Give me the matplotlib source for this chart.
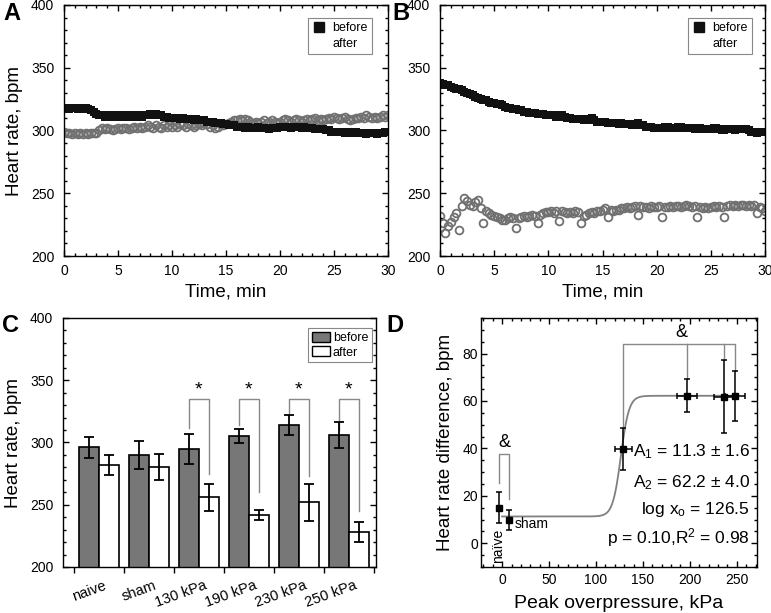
import numpy as np
import matplotlib
matplotlib.use('Agg')
import matplotlib.pyplot as plt
from matplotlib.ticker import MultipleLocator
from matplotlib.lines import Line2D
from matplotlib.patches import Patch
import matplotlib.transforms as mtransforms

plt.rcParams['font.family'] = ['Liberation Sans', 'DejaVu Sans']
plt.rcParams['mathtext.fontset'] = 'custom'
plt.rcParams['mathtext.rm'] = 'Liberation Sans'
plt.rcParams['mathtext.it'] = 'Liberation Sans:italic'
plt.rcParams['mathtext.bf'] = 'Liberation Sans:bold'

# ---------------- data ----------------
time_min = np.linspace(0, 30, 121)

a_before = [318, 318, 317, 318, 318, 317, 318, 317, 318, 317, 316,
            315, 313, 312,
            312, 311, 312, 311, 312, 311, 311, 312, 311, 312, 311, 312,
            311, 311, 312, 311, 312, 312, 313, 312, 313, 312, 312, 311,
            311, 310, 310, 310, 310, 309, 310, 309, 309, 309, 308, 309,
            308, 308, 308, 307, 307, 307, 306,
            306, 306, 305, 305, 304, 304, 304, 303,
            303, 303, 302, 303, 302, 302, 302, 303, 302, 302, 302, 301,
            302, 302, 302, 303,
            303, 303, 303, 302, 303, 303, 303, 302, 303, 302, 302, 302,
            301, 301, 301, 301,
            300, 300, 299, 299,
            299, 299, 299, 298, 299, 299, 298, 299, 298, 298, 298, 297,
            298, 298, 298, 297, 298, 298, 299, 299]

a_after = [299, 298, 298, 297, 298, 297, 298, 297, 298, 297, 298, 298, 298,
           300, 302, 301, 302, 301, 300, 301, 302, 301, 302, 302, 301,
           302, 303, 302, 303, 302, 303, 304, 303, 302, 304, 303, 302,
           304, 303, 304, 303,
           304, 303, 305, 304, 303, 305, 304, 303, 304, 305, 304, 306,
           305, 303, 304, 302, 303, 305, 304, 305,
           306, 307, 308, 308, 309, 308, 309, 308,
           307, 306, 307, 306, 307, 308, 306, 307, 308, 307, 306, 307,
           308, 309, 308, 307, 308, 309, 308, 307, 308, 309, 308, 309,
           310, 308, 309, 308,
           309, 310, 309, 311, 310, 309, 310, 311, 309, 308, 309, 310,
           310, 311, 310, 312, 311, 310, 311, 310, 311, 312, 311, 312]

b_before = [338, 337, 336, 336, 335, 334, 333, 333, 332, 331, 330, 329,
            328, 327, 326, 325, 324, 324, 323, 322, 322, 321, 321, 320,
            319, 318, 318, 317, 317, 316, 316, 315, 315, 314, 314, 314,
            313, 313, 313, 312, 312, 312, 312, 311, 311, 312, 311, 310,
            310, 309, 309, 309, 309, 308, 308, 309, 310, 308, 307, 307,
            307, 307, 306, 306, 306, 306, 305, 306, 305, 305, 305, 304,
            305, 306, 304, 304, 303, 303, 303, 302, 302, 302, 302, 303,
            303, 302, 302, 302, 303, 303, 302, 302, 302, 302, 301, 301,
            302, 301, 301, 301, 301, 302, 302, 301, 300, 300, 301, 301,
            301, 300, 301, 301, 301, 301, 300, 299, 299, 298, 299, 299,
            299]

b_after = [232, 226, 218, 224, 227, 231, 234, 221, 240, 246, 244, 241,
           240, 243, 245, 238, 226, 236, 234, 233, 232, 231, 230, 229,
           229, 230, 231, 230, 222, 230, 231, 232, 231, 232, 233, 232,
           226, 233, 234, 235, 235, 236, 234, 236, 228, 236, 235, 234,
           235, 234, 236, 235, 226, 232, 233, 234, 235, 234, 236, 236,
           237, 238, 231, 237, 236, 237, 237, 238, 238, 239, 238, 239,
           240, 233, 240, 239, 239, 238, 240, 239, 239, 240, 231, 239,
           239, 240, 239, 240, 240, 239, 240, 241, 240, 239, 240, 231,
           239, 238, 239, 238, 239, 240, 239, 240, 239, 231, 240, 241,
           240, 241, 240, 241, 241, 240, 241, 240, 241, 234, 239, 238,
           236]

categories = ['naive', 'sham', '130 kPa', '190 kPa', '230 kPa', '250 kPa']
hr_before = [296, 290, 295, 305, 314, 306]
hr_before_err = [8.8, 11, 12, 5.6, 8.3, 10.6]
hr_after = [282, 280, 256, 242, 252, 228]
hr_after_err = [8, 10.5, 10.7, 4, 15, 8]
sig_groups = [2, 3, 4, 5]
sig_left_y = [311.6, 314, 323.7, 309.8]
sig_right_y = [274.7, 260, 272.8, 245]
sig_top_y = 335

pressure = [-3, 7, 129, 197, 236, 248]
pressure_err = [0, 0, 9, 11, 10, 11]
hr_diff = [15, 10, 39.7, 62.3, 61.8, 62]
hr_diff_err = [6.6, 4.2, 9, 7, 15.5, 10.5]
fit_A1, fit_A2, fit_x0, fit_p = 11.3, 62.2, 126.5, 0.10

GRAY = '#707070'
fig = plt.figure(figsize=(7.71, 6.13), dpi=100)
W, H = 771, 613


def axes_px(l, r, t, b):
    return fig.add_axes([l / W, (H - b) / H, (r - l) / W, (b - t) / H])


def style(ax, xmaj, xmin, ymaj, ymin, top=True, right=True):
    ax.xaxis.set_major_locator(MultipleLocator(xmaj))
    ax.xaxis.set_minor_locator(MultipleLocator(xmin))
    ax.yaxis.set_major_locator(MultipleLocator(ymaj))
    ax.yaxis.set_minor_locator(MultipleLocator(ymin))
    ax.tick_params(which='both', direction='in', top=top, right=right,
                   labelsize=10, width=1.0)
    ax.tick_params(which='major', length=4.5)
    ax.tick_params(which='minor', length=2.5)
    ax.tick_params(axis='y', pad=7)
    ax.tick_params(axis='x', pad=6)
    for s in ax.spines.values():
        s.set_linewidth(1.0)


def ts_panel(ax, before, after, legend_x):
    ax.plot(time_min, after, linestyle='none', marker='o', ms=5.6, mfc='none',
            mec=GRAY, mew=1.3)
    ax.plot(time_min, before, linestyle='none', marker='s', ms=6.3,
            color='#111111', mew=0)
    ax.set_xlim(0, 30)
    ax.set_ylim(200, 400)
    style(ax, 5, 1, 50, 10)
    ax.set_xlabel('Time, min', fontsize=13.5, labelpad=4)
    h = [Line2D([], [], linestyle='none', marker='s', ms=7, color='#111111'),
         Line2D([], [], linestyle='none')]
    leg = ax.legend(h, ['before', 'after'], loc='upper right',
                    bbox_to_anchor=(legend_x, 0.948), borderaxespad=0,
                    fontsize=9, handlelength=1.0, handletextpad=0.6,
                    borderpad=0.35, labelspacing=0.25, fancybox=False,
                    framealpha=1)
    leg.get_frame().set_edgecolor('#888888')
    leg.get_frame().set_linewidth(0.8)


# ---------------- A ----------------
axA = axes_px(64, 388, 5, 256)
ts_panel(axA, a_before, a_after, 0.951)
axA.set_ylabel('Heart rate, bpm', fontsize=13.5, labelpad=6)
fig.text(3 / W, 1 - 14 / H, 'A', fontsize=17, fontweight='bold', va='center')

# ---------------- B ----------------
axB = axes_px(440, 765, 5, 256)
ts_panel(axB, b_before, b_after, 0.96)
fig.text(392 / W, 1 - 14 / H, 'B', fontsize=17, fontweight='bold', va='center')

# ---------------- C ----------------
axC = axes_px(63, 376, 318, 567)
x = np.arange(len(categories))
bw = 0.4
axC.bar(x - bw / 2, hr_before, bw, color='#777777', edgecolor='black',
        linewidth=1.2, zorder=2)
axC.bar(x + bw / 2, hr_after, bw, color='white', edgecolor='black',
        linewidth=1.2, zorder=2)
axC.errorbar(x - bw / 2, hr_before, yerr=hr_before_err, fmt='none',
             ecolor='black', elinewidth=1.3, capsize=3.5, capthick=1.3, zorder=3)
axC.errorbar(x + bw / 2, hr_after, yerr=hr_after_err, fmt='none',
             ecolor='black', elinewidth=1.3, capsize=3.5, capthick=1.3, zorder=3)
for g, yl, yr in zip(sig_groups, sig_left_y, sig_right_y):
    axC.plot([g - bw / 2, g - bw / 2, g + bw / 2, g + bw / 2],
             [yl, sig_top_y, sig_top_y, yr], color='#888888', lw=1.0, zorder=1)
    axC.text(g, sig_top_y + 0.5, '*', ha='center', va='bottom', fontsize=14)
axC.set_xlim(-0.71, 5.54)
axC.set_ylim(200, 400)
axC.yaxis.set_major_locator(MultipleLocator(50))
axC.yaxis.set_minor_locator(MultipleLocator(10))
axC.set_xticks(np.arange(-0.5, 6.0, 1.0))
axC.set_xticklabels([])
axC.tick_params(axis='x', which='both', direction='out', length=4, width=1.0,
                top=False)
axC.tick_params(axis='y', which='both', direction='in', right=True,
                labelsize=10, pad=7, width=1.0)
axC.tick_params(axis='y', which='major', length=4.5)
axC.tick_params(axis='y', which='minor', length=2.5)
for s in axC.spines.values():
    s.set_linewidth(1.0)
trans = mtransforms.blended_transform_factory(axC.transData, axC.transAxes)
for i, c in enumerate(categories):
    axC.text(i + 0.1, -0.045, c, transform=trans, rotation=20,
             rotation_mode='anchor', ha='right', va='top', fontsize=10.5)
axC.set_ylabel('Heart rate, bpm', fontsize=13.5, labelpad=6)
legC = axC.legend([Patch(facecolor='#777777', edgecolor='black', linewidth=1.0),
                   Patch(facecolor='white', edgecolor='black', linewidth=1.0)],
                  ['before', 'after'], loc='upper right',
                  bbox_to_anchor=(0.987, 0.96), borderaxespad=0, fontsize=9,
                  handlelength=1.5, handleheight=0.9, handletextpad=0.2,
                  borderpad=0.3, labelspacing=0.15, fancybox=False,
                  framealpha=1)
legC.get_frame().set_edgecolor('#888888')
legC.get_frame().set_linewidth(0.8)
fig.text(2 / W, 1 - 325 / H, 'C', fontsize=17, fontweight='bold', va='center')

# ---------------- D ----------------
axD = axes_px(481, 757, 318, 567)
xf = np.linspace(0, 250, 400)
yf = fit_A1 + (fit_A2 - fit_A1) / (1 + 10 ** ((fit_x0 - xf) * fit_p))
axD.plot(xf, yf, color='#808080', lw=1.3, zorder=1)
axD.errorbar(pressure, hr_diff, yerr=hr_diff_err, xerr=pressure_err, fmt='s',
             color='black', ms=5, elinewidth=1.1, capsize=2.5, capthick=1.1,
             zorder=3)
# brackets
axD.plot([pressure[0], pressure[0], pressure[1], pressure[1]],
         [hr_diff[0] + hr_diff_err[0] + 4, 37.6, 37.6, hr_diff[1] + hr_diff_err[1] + 4.5],
         color='#888888', lw=1.0)
axD.text((pressure[0] + pressure[1]) / 2, 39, '&', ha='center', va='bottom',
         fontsize=13)
axD.plot([pressure[2], pressure[2], pressure[5], pressure[5]],
         [hr_diff[2] + hr_diff_err[2], 84, 84, hr_diff[5] + hr_diff_err[5]],
         color='#888888', lw=1.0)
axD.plot([pressure[3], pressure[3]], [84, hr_diff[3] + hr_diff_err[3]],
         color='#888888', lw=1.0)
axD.plot([pressure[4], pressure[4]], [84, hr_diff[4] + hr_diff_err[4]],
         color='#888888', lw=1.0)
axD.text(191, 85.5, '&', ha='center', va='bottom', fontsize=13)
axD.text(pressure[0] - 1, -8.5, 'naïve', rotation=90, ha='center',
         va='bottom', fontsize=10)
axD.text(13, 8, 'sham', ha='left', va='center', fontsize=10)
ann = ['A$_1$ = 11.3 ± 1.6', 'A$_2$ = 62.2 ± 4.0', 'log x$_\\mathrm{o}$ = 126.5',
       'p = 0.10,R$^2$ = 0.98']
ann_y = [38.6, 25.4, 14.2, 2.4]
for t, yy in zip(ann, ann_y):
    axD.text(264, yy, t, ha='right', va='center', fontsize=12.5)
axD.set_xlim(-22.5, 271.5)
axD.set_ylim(-10, 95)
style(axD, 50, 10, 20, 5)
axD.tick_params(axis='y', pad=2)
axD.tick_params(axis='x', pad=4)
axD.set_xlabel('Peak overpressure, kPa', fontsize=14, labelpad=6)
axD.set_ylabel('Heart rate difference, bpm', fontsize=13.5, labelpad=6)
fig.text(386 / W, 1 - 325 / H, 'D', fontsize=17, fontweight='bold', va='center')

fig.savefig('out.png', dpi=100)
